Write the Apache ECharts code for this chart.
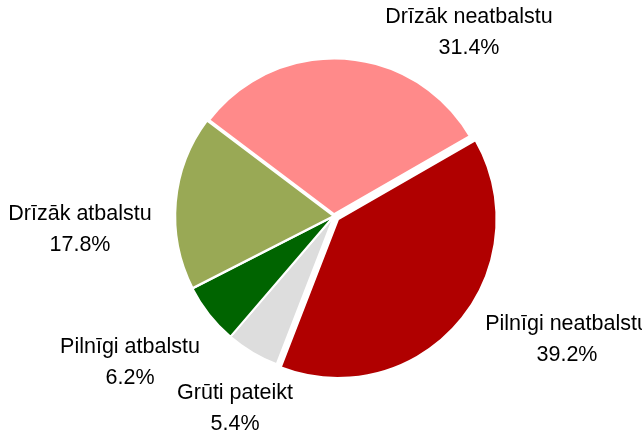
<!DOCTYPE html>
<html>
<head>
<meta charset="utf-8">
<script src="https://cdn.jsdelivr.net/npm/echarts@6/dist/echarts.min.js"></script>
<style>
  html, body { margin: 0; padding: 0; background: #fff; }
  #chart { width: 642px; height: 437px; }
</style>
</head>
<body>
<div id="chart"></div>
<script>
  // clockwise from the upper-left edge of the pink slice
  const categories = [
    "Drīzāk neatbalstu",
    "Pilnīgi neatbalstu",
    "Grūti pateikt",
    "Pilnīgi atbalstu",
    "Drīzāk atbalstu"
  ];
  const shares = [31.4, 39.2, 5.4, 6.2, 17.8];
  const sliceColors = ["#FF8A8A", "#B00000", "#DDDDDD", "#006400", "#99A955"];
  const borderWidths = [5, 2.5, 2, 2, 2.5];
  const explodedIndex = 1; // the red slice is pulled out a little

  // label centres
  const labelPos = [
    [469, 33],
    [567, 340],
    [235, 409],
    [130, 363],
    [80, 230]
  ];

  const pieCenter = [334, 216];
  const pieRadius = 159;
  const startAngle = 143;

  // direction of the exploded slice's bisector, for its offset
  const total = shares.reduce((a, b) => a + b, 0);
  const before = shares.slice(0, explodedIndex).reduce((a, b) => a + b, 0);
  const midDeg = startAngle - (before + shares[explodedIndex] / 2) / total * 360;
  const offset = 5;
  const explodedCenter = [
    pieCenter[0] + offset * Math.cos(midDeg * Math.PI / 180),
    pieCenter[1] - offset * Math.sin(midDeg * Math.PI / 180)
  ];

  const baseSeries = {
    type: "pie",
    radius: [0, pieRadius],
    startAngle: startAngle,
    clockwise: true,
    emphasis: { disabled: true },
    labelLine: { show: false }
  };

  const chart = echarts.init(document.getElementById("chart"), null, { renderer: "canvas" });
  chart.setOption({
    animation: false,
    series: [
      Object.assign({}, baseSeries, {
        center: pieCenter,
        label: {
          show: true,
          position: "inside",
          formatter: (p) => p.name + "\n" + p.value.toFixed(1) + "%",
          fontFamily: "Liberation Sans, Arial, sans-serif",
          fontSize: 21.5,
          lineHeight: 31,
          color: "#000",
          align: "center",
          overflow: "none"
        },
        labelLayout: (p) => ({
          x: labelPos[p.dataIndex][0],
          y: labelPos[p.dataIndex][1],
          align: "center",
          verticalAlign: "middle"
        }),
        data: categories.map((c, i) => ({
          name: c,
          value: shares[i],
          itemStyle: i === explodedIndex
            ? { color: "transparent", borderWidth: 0 }
            : { color: sliceColors[i], borderColor: "#fff", borderWidth: borderWidths[i] }
        }))
      }),
      Object.assign({}, baseSeries, {
        center: explodedCenter,
        silent: true,
        label: { show: false },
        data: categories.map((c, i) => ({
          name: c,
          value: shares[i],
          itemStyle: i === explodedIndex
            ? { color: sliceColors[i], borderColor: "#fff", borderWidth: borderWidths[i] }
            : { color: "transparent", borderWidth: 0 }
        }))
      })
    ]
  });
</script>
</body>
</html>
